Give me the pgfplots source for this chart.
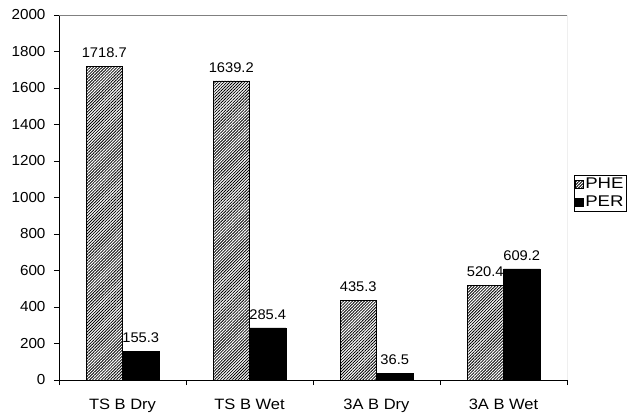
\documentclass[border=0pt]{standalone}
\usepackage{fontspec}
\setmainfont{Liberation Sans}[FakeStretch=1.05]
\newfontfamily\widefont{Liberation Sans}[FakeStretch=1.1]
\newfontfamily\legendfamily{Liberation Sans}[FakeStretch=1.2]
\usepackage{pgfplots}
\pgfplotsset{compat=1.18}
\usetikzlibrary{patterns.meta}

\newcommand\chartfont{\fontsize{14.5pt}{16pt}\selectfont}
\newcommand\xlabfont{\widefont\fontsize{15pt}{17pt}\selectfont}
\newcommand\valfont{\fontsize{14pt}{16pt}\selectfont}
\newcommand\legfont{\legendfamily\fontsize{15.5pt}{17pt}\selectfont}

\begin{document}
\begin{tikzpicture}[font=\chartfont]
\useasboundingbox (0pt,0pt) rectangle (629pt,416pt);
\begin{axis}[
  at={(59pt,36pt)}, anchor=south west,
  scale only axis, width=508pt, height=365pt,
  ybar=0pt, bar width=0.287,
  xmin=-0.5, xmax=3.5, ymin=0, ymax=2000,
  ytick={0,200,400,600,800,1000,1200,1400,1600,1800,2000},
  yticklabels={0,200,400,600,800,1000,1200,1400,1600,1800,2000},
  xtick={0,1,2,3},
  xticklabels={TS B Dry, TS B Wet, 3A B Dry, 3A B Wet},
  minor xtick={-0.5,0.5,1.5,2.5,3.5},
  major x tick style={draw=none},
  tick align=outside,
  major tick length=5pt, minor tick length=5pt,
  tick style={black, line width=0.6pt},
  axis x line*=bottom, axis y line*=left,
  axis line style={black, line width=0.7pt},
  /pgf/number format/assume math mode=true,
  /pgf/number format/1000 sep={},
  yticklabel style={font=\chartfont, xshift=-5pt},
  xticklabel style={font=\xlabfont, yshift=-10pt},
  nodes near coords={\pgfmathprintnumber[fixed,fixed zerofill,precision=1,1000 sep={}]{\pgfplotspointmeta}},
  nodes near coords style={font=\valfont, yshift=5pt},
  legend style={draw=black, line width=0.6pt, at={(1.0138,0.512)}, anchor=west,
    font=\legfont, inner xsep=1pt, inner ysep=0pt, row sep=0pt,
    nodes={inner xsep=1.5pt, inner ysep=3pt}},
  legend image code/.code={\draw[#1, line width=0.5pt] (0pt,-4pt) rectangle (8pt,4pt);},
]
\addplot[draw=black, line width=0.6pt, pattern={Lines[angle=45, distance=2.1pt, line width=0.8pt]}]
  coordinates {(0,1718.7) (1,1639.2) (2,435.3) (3,520.4)};
\addplot[draw=black, fill=black]
  coordinates {(0,155.3) (1,285.4) (2,36.5) (3,609.2)};
\legend{PHE, PER}
\draw[gray, line width=0.7pt] (rel axis cs:0,1) -- (rel axis cs:1,1) -- (rel axis cs:1,0);
\end{axis}
\end{tikzpicture}
\end{document}
